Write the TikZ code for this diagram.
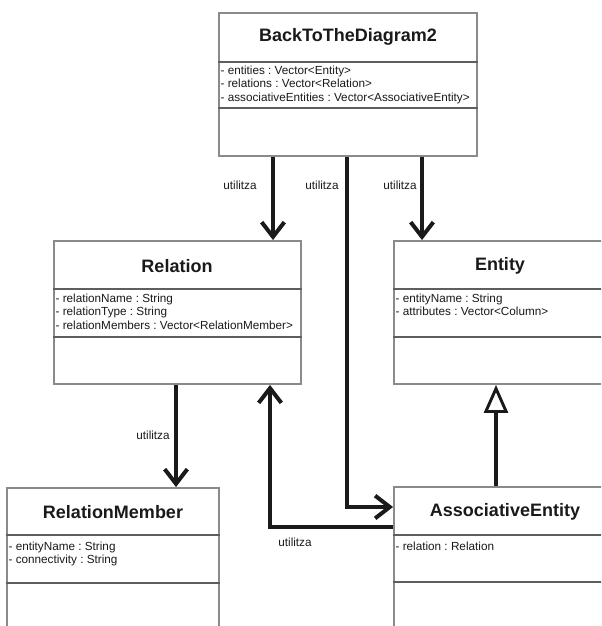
\documentclass[tikz,border=0pt]{standalone}
\usepackage{fontspec}
\setmainfont{Liberation Sans}
\usetikzlibrary{arrows.meta,fit}
\frenchspacing

\definecolor{boxline}{HTML}{8A8A8A}
\definecolor{sepline}{HTML}{5E5E5E}
\definecolor{ink}{HTML}{1A1A1A}

\tikzset{
  classbox/.style={draw=boxline, line width=1.4pt, fill=white, inner sep=0pt},
  septick/.style={draw=sepline, line width=1.3pt},
  classtitle/.style={font=\fontsize{13.5}{16}\selectfont\bfseries, text=ink, inner sep=0pt},
  attrs/.style={font=\fontsize{8.8}{10.3}\selectfont, text=ink, align=left, anchor=north west, inner sep=1pt},
  uselabel/.style={font=\fontsize{8.8}{10}\selectfont, text=ink, inner sep=0pt},
  uses/.style={draw=ink, line width=3pt, -{Straight Barb[length=11pt,width=17pt]}},
  inherits/.style={draw=ink, line width=3pt, -{Triangle[length=21pt,width=18pt,fill=white,line width=2.2pt]}}
}

\begin{document}
\begin{tikzpicture}[x=0.75pt, y=-0.75pt]
  \useasboundingbox (0,0) rectangle (601,626);
  \clip (0,0) rectangle (601,626);

  % class outlines
  \coordinate (btd-nw) at (219,13);   \coordinate (btd-se) at (477,156);
  \coordinate (rel-nw) at (54,241);   \coordinate (rel-se) at (301,384);
  \coordinate (ent-nw) at (394,241);  \coordinate (ent-se) at (606,384);
  \coordinate (rm-nw)  at (7,488);    \coordinate (rm-se)  at (219,660);
  \coordinate (ae-nw)  at (394,487);  \coordinate (ae-se)  at (616,660);

  \node[classbox, fit=(btd-nw)(btd-se)] (btd) {};
  \node[classbox, fit=(rel-nw)(rel-se)] (relation) {};
  \node[classbox, fit=(ent-nw)(ent-se)] (entity) {};
  \node[classbox, fit=(rm-nw)(rm-se)] (member) {};
  \node[classbox, fit=(ae-nw)(ae-se)] (assoc) {};

  % compartment separators
  \draw[septick] (btd.west |- 0,62) -- (btd.east |- 0,62);
  \draw[septick] (btd.west |- 0,108) -- (btd.east |- 0,108);
  \draw[septick] (relation.west |- 0,289) -- (relation.east |- 0,289);
  \draw[septick] (relation.west |- 0,337) -- (relation.east |- 0,337);
  \draw[septick] (entity.west |- 0,289) -- (entity.east |- 0,289);
  \draw[septick] (entity.west |- 0,337) -- (entity.east |- 0,337);
  \draw[septick] (member.west |- 0,535) -- (member.east |- 0,535);
  \draw[septick] (member.west |- 0,583) -- (member.east |- 0,583);
  \draw[septick] (assoc.west |- 0,535) -- (assoc.east |- 0,535);
  \draw[septick] (assoc.west |- 0,582) -- (assoc.east |- 0,582);

  % class names
  \node[classtitle] (btd-name) at (348,37) {BackToTheDiagram2};
  \node[classtitle] (rel-name) at (177,266) {Relation};
  \node[classtitle] (ent-name) at (500,266) {Entity};
  \node[classtitle] (rm-name) at (113,512) {RelationMember};
  \node[classtitle] (ae-name) at (505,512) {AssociativeEntity};

  % attributes
  \node[attrs] (btd-attrs) at (219,64) {- entities : Vector<Entity>\\- relations : Vector<Relation>\\- associativeEntities : Vector<AssociativeEntity>};
  \node[attrs] (rel-attrs) at (54,292) {- relationName : String\\- relationType : String\\- relationMembers : Vector<RelationMember>};
  \node[attrs] (ent-attrs) at (394,292) {- entityName : String\\- attributes : Vector<Column>};
  \node[attrs] (rm-attrs) at (7,540) {- entityName : String\\- connectivity : String};
  \node[attrs] (ae-attrs) at (394,540) {- relation : Relation};

  % associations
  \draw[uses] (273,0 |- btd.south) -- (273,0 |- relation.north);
  \draw[uses] (422,0 |- btd.south) -- (422,0 |- entity.north);
  \draw[uses] (347,0 |- btd.south) |- (assoc.west |- 0,507);
  \draw[uses] (176,0 |- relation.south) -- (176,0 |- member.north);
  \draw[uses] (assoc.west |- 0,527) -| (270,0 |- relation.south);

  % generalization
  \draw[inherits] (496,0 |- assoc.north) -- (496,0 |- entity.south);

  % association labels
  \node[uselabel] (lbl-rel) at (240,185) {utilitza};
  \node[uselabel] (lbl-ae) at (322,185) {utilitza};
  \node[uselabel] (lbl-ent) at (400,185) {utilitza};
  \node[uselabel] (lbl-rm) at (153,435) {utilitza};
  \node[uselabel] (lbl-back) at (295,542) {utilitza};
\end{tikzpicture}
\end{document}
